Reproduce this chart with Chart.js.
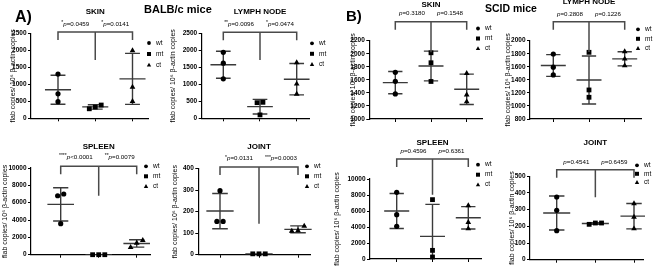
<!DOCTYPE html>
<html><head><meta charset="utf-8">
<script src="https://cdn.jsdelivr.net/npm/chart.js@4/dist/chart.umd.min.js"></script>
<style>
html,body{margin:0;padding:0;background:#fff;}
#wrap{position:relative;width:658px;height:268px;overflow:hidden;background:#fff;}
#wrap canvas{position:absolute;left:0;top:0;}
</style></head><body>
<div id="wrap"></div>
<script>
const FAM = '"Liberation Sans", Arial, sans-serif';
const categories = ['wt', 'mt', 'ct'];
const yTitle = 'flab copies/ 10\u2076 \u03b2-actin copies';

// ---- A) BALB/c mice ----
const aSkinWt = [1300, 720, 490];
const aSkinMt = [390, 330, 280];
const aSkinCt = [1990, 920, 500];
const aSkinMean = [840, 335, 1160];
const aSkinSd = [425, 65, 750];
const aSkinTicks = [0, 500, 1000, 1500, 2000, 2500];
const aSkinP = ['*p=0.0459', '*p=0.0141'];

const aLymphWt = [1940, 1620, 1160];
const aLymphMt = [470, 460, 100];
const aLymphCt = [1640, 1010, 715];
const aLymphMean = [1575, 343, 1150];
const aLymphSd = [398, 215, 462];
const aLymphTicks = [0, 500, 1000, 1500, 2000, 2500];
const aLymphP = ['**p=0.0096', '*p=0.0474'];

const aSpleenWt = [7000, 6800, 3580];
const aSpleenMt = [0, 0, 0];
const aSpleenCt = [1650, 1350, 850];
const aSpleenMean = [5800, 0, 1300];
const aSpleenSd = [1920, 0, 430];
const aSpleenTicks = [0, 2000, 4000, 6000, 8000, 10000];
const aSpleenP = ['****p<0.0001', '**p=0.0079'];

const aJointWt = [298, 155, 155];
const aJointMt = [4, 4, 4];
const aJointCt = [133, 112, 110];
const aJointMean = [203, 4, 118];
const aJointSd = [82, 0, 16];
const aJointTicks = [0, 100, 200, 300, 400];
const aJointP = ['*p=0.0131', '***p=0.0003'];

// ---- B) SCID mice ----
const bSkinWt = [1715, 1578, 1385];
const bSkinMt = [2015, 1862, 1575];
const bSkinCt = [1700, 1370, 1265];
const bSkinMean = [1557, 1812, 1455];
const bSkinSd = [170, 228, 232];
const bSkinTicks = [1000, 1200, 1400, 1600, 1800, 2000, 2200];
const bSkinP = ['p=0.3180', 'p=0.1548'];

const bLymphWt = [1796, 1595, 1475];
const bLymphMt = [1822, 1245, 1133];
const bLymphCt = [1832, 1720, 1617];
const bLymphMean = [1620, 1398, 1722];
const bLymphSd = [166, 368, 108];
const bLymphTicks = [800, 1000, 1200, 1400, 1600, 1800, 2000];
const bLymphP = ['p=0.2808', 'p=0.1226'];

const bSpleenWt = [8330, 5540, 4080];
const bSpleenMt = [7420, 1080, 250];
const bSpleenCt = [6670, 4580, 3790];
const bSpleenMean = [6000, 2830, 5150];
const bSpleenSd = [2180, 4000, 1400];
const bSpleenTicks = [0, 2000, 4000, 6000, 8000, 10000];
const bSpleenP = ['p=0.4596', 'p=0.6361'];

const bJointWt = [376, 296, 174];
const bJointMt = [212, 220, 220];
const bJointCt = [336, 256, 186];
const bJointMean = [280, 217, 261];
const bJointSd = [102, 5, 76];
const bJointTicks = [0, 100, 200, 300, 400, 500];
const bJointP = ['p=0.4541', 'p=0.6459'];

const panels = [
  {title:'SKIN', pts:[aSkinWt,aSkinMt,aSkinCt], mean:aSkinMean, sd:aSkinSd, ticks:aSkinTicks, p:aSkinP, bracket:2538, drop:1715,
   box:{l:31,t:33.3,r:148,b:118.3,wt:58,ct:132.5}, titleY:12, pY:24, legend:{x:149,y:43,dy:11}, yTitleX:13.5, global:true},
  {title:'LYMPH NODE', pts:[aLymphWt,aLymphMt,aLymphCt], mean:aLymphMean, sd:aLymphSd, ticks:aLymphTicks, p:aLymphP, bracket:2529, drop:1715,
   box:{l:201.7,t:33.3,r:310,b:118.3,wt:223.3,ct:296.7}, titleY:12, pY:24, legend:{x:312,y:43.3,dy:10.5}, yTitleX:173.5},
  {title:'SKIN', pts:[bSkinWt,bSkinMt,bSkinCt], mean:bSkinMean, sd:bSkinSd, ticks:bSkinTicks, p:bSkinP, bracket:2492, drop:2022,
   box:{l:369.3,t:40.7,r:482,b:119,wt:395.3,ct:466.7}, titleY:4.5, pY:13.5, legend:{x:478,y:28.5,dy:10}, yTitleX:353.3},
  {title:'LYMPH NODE', pts:[bLymphWt,bLymphMt,bLymphCt], mean:bLymphMean, sd:bLymphSd, ticks:bLymphTicks, p:bLymphP, bracket:2292, drop:1827,
   box:{l:530,t:40.7,r:641,b:119,wt:553.3,ct:624.7}, titleY:1.8, pY:14, legend:{x:638,y:29.3,dy:9.5}, yTitleX:508.5},
  {title:'SPLEEN', pts:[aSpleenWt,aSpleenMt,aSpleenCt], mean:aSpleenMean, sd:aSpleenSd, ticks:aSpleenTicks, p:aSpleenP, bracket:10196, drop:6805,
   box:{l:31,t:168,r:150,b:254.7,wt:60.7,ct:136.7}, titleY:146.3, pY:157.3, legend:{x:146,y:166.3,dy:10}, yTitleX:5},
  {title:'JOINT', pts:[aJointWt,aJointMt,aJointCt], mean:aJointMean, sd:aJointSd, ticks:aJointTicks, p:aJointP, bracket:408, drop:144,
   box:{l:198.3,t:168.7,r:310,b:254.7,wt:220,ct:298}, titleY:146.3, pY:158.7, legend:{x:307,y:166.3,dy:10}, yTitleX:175},
  {title:'SPLEEN', pts:[bSpleenWt,bSpleenMt,bSpleenCt], mean:bSpleenMean, sd:bSpleenSd, ticks:bSpleenTicks, p:bSpleenP, bracket:12500, drop:8038,
   box:{l:370,t:179,r:481.7,b:259,wt:396.7,ct:468.3}, titleY:143, pY:151.3, legend:{x:478,y:164.7,dy:10}, yTitleX:336.7},
  {title:'JOINT', pts:[bJointWt,bJointMt,bJointCt], mean:bJointMean, sd:bJointSd, ticks:bJointTicks, p:bJointP, bracket:540, drop:374,
   box:{l:530,t:176.3,r:643,b:259.7,wt:556.7,ct:634}, titleY:143, pY:162.3, legend:{x:637,y:165.3,dy:8.5}, yTitleX:511.7}
];

const W = 658, H = 268, YW = 30, XH = 4;
const styles = ['circle', 'rect', 'triangle'];
const radii = [2.6, 3.4, 3.3];
const LINE = '#3a3a3a';

// spread overlapping points of a group sideways (beeswarm-like)
function spread(vals, range) {
  const idx = vals.map((v, i) => i).sort((a, b) => vals[a] - vals[b]);
  const off = new Array(vals.length).fill(0);
  let cluster = [idx[0]];
  const flush = () => { const n = cluster.length; cluster.forEach((k, j) => off[k] = (j - (n - 1) / 2) * 0.16); };
  for (let j = 1; j < idx.length; j++) {
    if (vals[idx[j]] - vals[idx[j - 1]] < range * 0.06) cluster.push(idx[j]);
    else { flush(); cluster = [idx[j]]; }
  }
  flush();
  return off;
}

function drawP(ctx, txt, x, y, align) {
  const m = txt.match(/^(\**)p(.*)$/);
  const stars = m[1], rest = m[2];
  const fN = '6.2px ' + FAM, fI = 'italic 6.2px ' + FAM, fS = '5px ' + FAM;
  ctx.font = fS; const ws = ctx.measureText(stars).width;
  ctx.font = fI; const wp = ctx.measureText('p').width;
  ctx.font = fN; const wr = ctx.measureText(rest).width;
  let x0 = align === 'right' ? x - (ws + wp + wr) : x;
  ctx.textAlign = 'left'; ctx.textBaseline = 'middle';
  ctx.font = fS; ctx.fillText(stars, x0, y - 1.5); x0 += ws;
  ctx.font = fI; ctx.fillText('p', x0, y); x0 += wp;
  ctx.font = fN; ctx.fillText(rest, x0, y);
}

const errPlugin = {
  id: 'meanSd',
  beforeDatasetsDraw(chart) {
    const P = chart.options.plugins.panel;
    const {ctx, chartArea: a, scales: {x, y}} = chart;
    ctx.save();
    ctx.beginPath(); ctx.rect(a.left - 2, a.top - 5, a.right - a.left + 4, a.bottom - a.top + 5); ctx.clip();
    ctx.strokeStyle = LINE; ctx.lineWidth = 1.4;
    P.mean.forEach((m, g) => {
      const cx = x.getPixelForValue(g);
      const hw = x.getPixelForValue(g + 0.35) - cx;
      const cw = x.getPixelForValue(g + 0.2) - cx;
      const ym = y.getPixelForValue(m), yt = y.getPixelForValue(m + P.sd[g]), yb = y.getPixelForValue(m - P.sd[g]);
      ctx.beginPath();
      ctx.moveTo(cx - hw, ym); ctx.lineTo(cx + hw, ym);
      if (P.sd[g] > 0) {
        ctx.moveTo(cx, yt); ctx.lineTo(cx, yb);
        ctx.moveTo(cx - cw, yt); ctx.lineTo(cx + cw, yt);
        ctx.moveTo(cx - cw, yb); ctx.lineTo(cx + cw, yb);
      }
      ctx.stroke();
    });
    ctx.restore();
  }
};

const decoPlugin = {
  id: 'deco',
  afterDraw(chart) {
    const P = chart.options.plugins.panel;
    const {ctx, chartArea: a, scales: {x, y}} = chart;
    ctx.save();
    ctx.fillStyle = '#000';
    // bracket
    const xl = x.getPixelForValue(0), xr = x.getPixelForValue(2), xm = (xl + xr) / 2;
    const yb = y.getPixelForValue(P.bracket), yd = y.getPixelForValue(P.drop);
    ctx.strokeStyle = '#4a4a4a'; ctx.lineWidth = 1.5;
    ctx.beginPath();
    ctx.moveTo(xl, yb + 8); ctx.lineTo(xl, yb); ctx.lineTo(xr, yb); ctx.lineTo(xr, yb + 8);
    ctx.moveTo(xm, yb); ctx.lineTo(xm, yd);
    ctx.stroke();
    // title
    ctx.font = 'bold 8px ' + FAM; ctx.textAlign = 'center'; ctx.textBaseline = 'middle';
    ctx.fillText(P.title, xm, P.titleY);
    // p values
    drawP(ctx, P.p[0], xm - 6, P.pY, 'right');
    drawP(ctx, P.p[1], xm + 6, P.pY, 'left');
    // legend
    chart.data.datasets.forEach((ds, i) => {
      const lx = P.legend.x, ly = P.legend.y + i * P.legend.dy;
      ctx.beginPath();
      if (i === 0) { ctx.arc(lx, ly, 1.9, 0, Math.PI * 2); }
      else if (i === 1) { ctx.rect(lx - 2, ly - 2, 4, 4); }
      else { ctx.moveTo(lx, ly - 2.2); ctx.lineTo(lx + 2.2, ly + 1.6); ctx.lineTo(lx - 2.2, ly + 1.6); ctx.closePath(); }
      ctx.fill();
      ctx.font = '6.5px ' + FAM; ctx.textAlign = 'left'; ctx.textBaseline = 'middle';
      ctx.fillText(ds.label, lx + 7, ly);
    });
    // y title
    ctx.save();
    ctx.translate(P.yTitleX, (a.top + a.bottom) / 2);
    ctx.rotate(-Math.PI / 2);
    ctx.font = '7px ' + FAM; ctx.textAlign = 'center'; ctx.textBaseline = 'middle';
    ctx.fillText(yTitle, 0, 0);
    ctx.restore();
    // global labels
    if (P.global) {
      ctx.textAlign = 'left'; ctx.textBaseline = 'alphabetic';
      ctx.font = 'bold 16px ' + FAM; ctx.fillText('A)', 15, 21.7);
      ctx.font = 'bold 15px ' + FAM; ctx.fillText('B)', 346, 21);
      ctx.font = 'bold 11px ' + FAM; ctx.fillText('BALB/c mice', 144, 12.5);
      ctx.font = 'bold 10.5px ' + FAM; ctx.fillText('SCID mice', 485, 11.5);
    }
    ctx.restore();
  }
};

Chart.defaults.font.family = FAM;
const wrap = document.getElementById('wrap');

panels.forEach((P) => {
  const cv = document.createElement('canvas');
  cv.width = W; cv.height = H;
  cv.style.width = W + 'px'; cv.style.height = H + 'px';
  wrap.appendChild(cv);
  const B = P.box;
  const s = (B.ct - B.wt) / 2;
  const xMin = -(B.wt - B.l) / s, xMax = 2 + (B.r - B.ct) / s;
  const yMin = P.ticks[0], yMax = P.ticks[P.ticks.length - 1];
  const range = yMax - yMin;
  const datasets = categories.map((c, g) => {
    const off = spread(P.pts[g], range);
    return {
      label: c,
      data: P.pts[g].map((v, i) => ({x: g + off[i], y: v})),
      pointStyle: styles[g], pointRadius: radii[g],
      pointBackgroundColor: '#000', pointBorderColor: '#000', pointBorderWidth: 0,
      showLine: false, clip: false
    };
  });
  new Chart(cv, {
    type: 'scatter',
    data: {datasets},
    options: {
      responsive: false, animation: false, devicePixelRatio: 1,
      layout: {padding: {left: B.l - YW, top: B.t, right: W - B.r, bottom: H - B.b - XH}},
      plugins: {legend: {display: false}, tooltip: {enabled: false}, panel: P},
      scales: {
        x: {
          type: 'linear', min: xMin, max: xMax,
          afterBuildTicks: sc => { sc.ticks = [0, 1, 2].map(v => ({value: v})); },
          afterFit: sc => { sc.height = XH; },
          ticks: {callback: v => categories[v] ?? '', font: {size: 7, weight: 'bold'}, color: '#000', padding: 1.5, maxRotation: 0, autoSkip: false},
          grid: {drawOnChartArea: false, drawTicks: true, tickLength: 3, color: '#000', lineWidth: 1},
          border: {display: true, color: '#000', width: 1.2}
        },
        y: {
          type: 'linear', min: yMin, max: yMax,
          afterFit: sc => { sc.width = YW; },
          ticks: {stepSize: P.ticks[1] - P.ticks[0], callback: v => String(v), font: {size: 6.5, weight: 'bold'}, color: '#000', padding: 1.5},
          grid: {drawOnChartArea: false, drawTicks: true, tickLength: 3, color: '#000', lineWidth: 1},
          border: {display: true, color: '#000', width: 1.2}
        }
      }
    },
    plugins: [errPlugin, decoPlugin]
  });
});
</script>
</body></html>
